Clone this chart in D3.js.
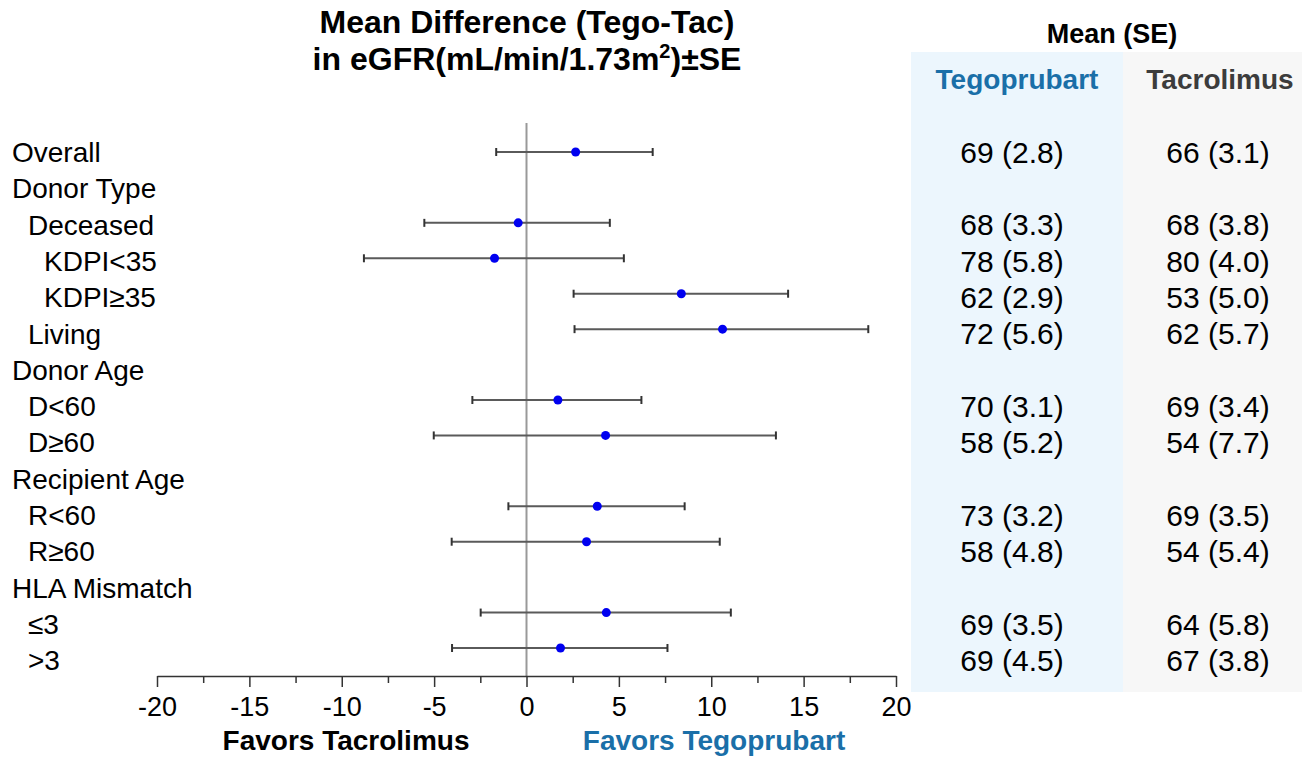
<!DOCTYPE html>
<html>
<head>
<meta charset="utf-8">
<script src="https://cdn.jsdelivr.net/npm/d3@7"></script>
<style>
  body { margin: 0; background: #fff; }
  svg { display: block; font-family: "Liberation Sans", Arial, sans-serif; }
</style>
</head>
<body>
<svg id="chart" width="1302" height="757"></svg>
<script>
// rows of the forest plot
const rowLabels = ['Overall', 'Donor Type', 'Deceased', 'KDPI<35', 'KDPI\u226535', 'Living',
  'Donor Age', 'D<60', 'D\u226560', 'Recipient Age', 'R<60', 'R\u226560',
  'HLA Mismatch', '\u22643', '>3'];
const rowIndent = [0, 0, 1, 2, 2, 1, 0, 1, 1, 0, 1, 1, 0, 1, 1];

// mean difference (Tego-Tac) and +/- SE ends
const estimate = [2.66, null, -0.45, -1.73, 8.38, 10.61, null, 1.70, 4.28, null, 3.83, 3.25, null, 4.32, 1.84];
const lower    = [-1.64, null, -5.53, -8.80, 2.55, 2.60, null, -2.93, -5.02, null, -0.98, -4.05, null, -2.48, -4.03];
const upper    = [6.83, null, 4.51, 5.27, 14.16, 18.50, null, 6.22, 13.50, null, 8.56, 10.46, null, 11.06, 7.63];

// table columns
const tegoMean = [69, null, 68, 78, 62, 72, null, 70, 58, null, 73, 58, null, 69, 69];
const tegoSE   = [2.8, null, 3.3, 5.8, 2.9, 5.6, null, 3.1, 5.2, null, 3.2, 4.8, null, 3.5, 4.5];
const tacMean  = [66, null, 68, 80, 53, 62, null, 69, 54, null, 69, 54, null, 64, 67];
const tacSE    = [3.1, null, 3.8, 4.0, 5.0, 5.7, null, 3.4, 7.7, null, 3.5, 5.4, null, 5.8, 3.8];

const majorTicks = [-20, -15, -10, -5, 0, 5, 10, 15, 20];
const minorTicks = [-17.5, -12.5, -7.5, -2.5, 2.5, 7.5, 12.5, 17.5];

const blue = '#1a6fa8';
const svg = d3.select('#chart');
const idx = d3.range(rowLabels.length);

const x = d3.scaleLinear().domain([-20, 20]).range([157, 896]);
const yText = d3.scalePoint().domain(idx).range([152, 660]);
const yMark = d3.scalePoint().domain(idx).range([152, 648]);
const axisY = 676;

// table backgrounds
svg.append('rect').attr('x', 911).attr('y', 52).attr('width', 212).attr('height', 640).attr('fill', '#ecf6fd');
svg.append('rect').attr('x', 1123).attr('y', 52).attr('width', 179).attr('height', 640).attr('fill', '#f7f7f7');

// title
const title = svg.append('text').attr('text-anchor', 'middle').attr('font-weight', 'bold')
  .attr('font-size', 32).attr('fill', '#000');
title.append('tspan').attr('x', 527).attr('y', 33).text('Mean Difference (Tego-Tac)');
const t2 = title.append('tspan').attr('x', 527).attr('y', 70);
t2.append('tspan').text('in eGFR(mL/min/1.73m');
t2.append('tspan').attr('font-size', 20).attr('dy', -12).text('2');
t2.append('tspan').attr('dy', 12).text(')\u00b1SE');

// table headers
svg.append('text').attr('x', 1112).attr('y', 43).attr('text-anchor', 'middle')
  .attr('font-weight', 'bold').attr('font-size', 27).text('Mean (SE)');
svg.append('text').attr('x', 1017).attr('y', 89).attr('text-anchor', 'middle')
  .attr('font-weight', 'bold').attr('font-size', 28).attr('fill', blue).text('Tegoprubart');
svg.append('text').attr('x', 1220).attr('y', 89).attr('text-anchor', 'middle')
  .attr('font-weight', 'bold').attr('font-size', 28).attr('fill', '#3c3c3c').text('Tacrolimus');

// row labels
svg.append('g').selectAll('text').data(idx).join('text')
  .attr('x', i => 12 + rowIndent[i] * 16)
  .attr('y', i => yText(i))
  .attr('dy', '0.36em')
  .attr('font-size', 28)
  .text(i => rowLabels[i]);

// table values
const withData = idx.filter(i => tegoMean[i] !== null);
svg.append('g').selectAll('text').data(withData).join('text')
  .attr('x', 1012).attr('y', i => yText(i)).attr('dy', '0.36em')
  .attr('text-anchor', 'middle').attr('font-size', 30)
  .text(i => `${tegoMean[i]} (${tegoSE[i].toFixed(1)})`);
svg.append('g').selectAll('text').data(withData).join('text')
  .attr('x', 1218).attr('y', i => yText(i)).attr('dy', '0.36em')
  .attr('text-anchor', 'middle').attr('font-size', 30)
  .text(i => `${tacMean[i]} (${tacSE[i].toFixed(1)})`);

// zero reference line
svg.append('line').attr('x1', x(0)).attr('x2', x(0)).attr('y1', 123).attr('y2', axisY)
  .attr('stroke', '#999').attr('stroke-width', 2);

// error bars
const bars = svg.append('g').selectAll('g').data(idx.filter(i => estimate[i] !== null)).join('g');
bars.append('line')
  .attr('x1', i => x(lower[i])).attr('x2', i => x(upper[i]))
  .attr('y1', i => yMark(i)).attr('y2', i => yMark(i))
  .attr('stroke', '#5a5a5a').attr('stroke-width', 2);
bars.append('line')
  .attr('x1', i => x(lower[i])).attr('x2', i => x(lower[i]))
  .attr('y1', i => yMark(i) - 4).attr('y2', i => yMark(i) + 4)
  .attr('stroke', '#333').attr('stroke-width', 2);
bars.append('line')
  .attr('x1', i => x(upper[i])).attr('x2', i => x(upper[i]))
  .attr('y1', i => yMark(i) - 4).attr('y2', i => yMark(i) + 4)
  .attr('stroke', '#333').attr('stroke-width', 2);
bars.append('circle')
  .attr('cx', i => x(estimate[i])).attr('cy', i => yMark(i))
  .attr('r', 4.5).attr('fill', '#0000f0');

// x axis
const axis = svg.append('g').attr('transform', `translate(0,${axisY})`)
  .call(d3.axisBottom(x).tickValues(majorTicks).tickSize(11).tickSizeOuter(0).tickFormat(d3.format('')));
axis.select('.domain').attr('stroke', '#333').attr('stroke-width', 1.5);
axis.selectAll('.tick line').attr('stroke', '#333').attr('stroke-width', 1.5);
axis.selectAll('.tick text').attr('font-size', 27).attr('font-family', '"Liberation Sans", Arial, sans-serif')
  .attr('fill', '#000').attr('y', 21).attr('dy', '0.71em')
  .text(d => d < 0 ? '-' + Math.abs(d) : d);
const minor = svg.append('g').attr('transform', `translate(0,${axisY})`)
  .call(d3.axisBottom(x).tickValues(minorTicks).tickSize(7).tickSizeOuter(0).tickFormat(''));
minor.select('.domain').remove();
minor.selectAll('.tick line').attr('stroke', '#333').attr('stroke-width', 1.5);

// favors labels
svg.append('text').attr('x', 346).attr('y', 750).attr('text-anchor', 'middle')
  .attr('font-weight', 'bold').attr('font-size', 28).attr('fill', '#000').text('Favors Tacrolimus');
svg.append('text').attr('x', 714).attr('y', 750).attr('text-anchor', 'middle')
  .attr('font-weight', 'bold').attr('font-size', 28).attr('fill', blue).text('Favors Tegoprubart');
</script>
</body>
</html>
